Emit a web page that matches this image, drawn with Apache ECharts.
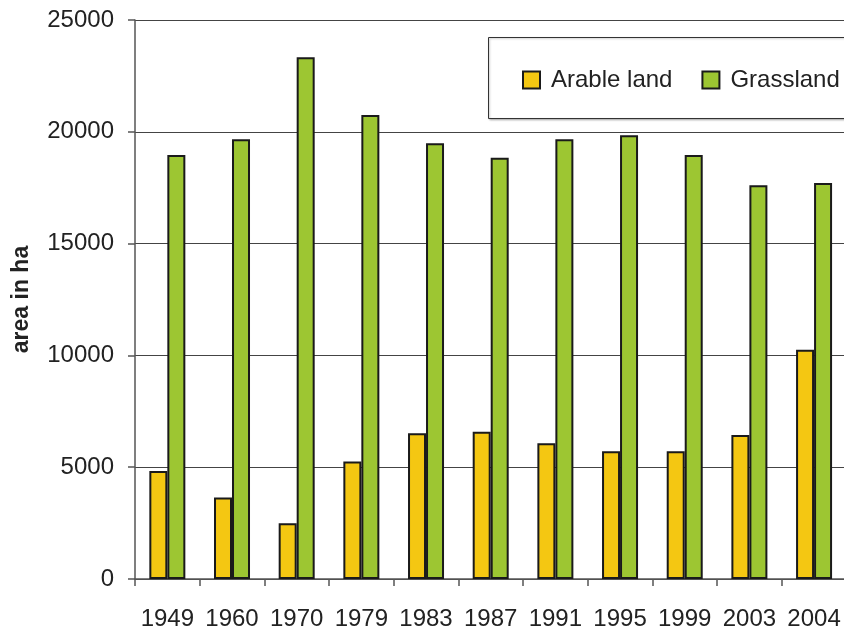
<!DOCTYPE html>
<html>
<head>
<meta charset="utf-8">
<script src="https://cdn.jsdelivr.net/npm/echarts@6/dist/echarts.min.js"></script>
<style>html,body{margin:0;padding:0;background:#fff}#c{width:844px;height:629px}</style>
</head>
<body>
<div id="c"></div>
<script>
var years = ['1949','1960','1970','1979','1983','1987','1991','1995','1999','2003','2004'];
var arable = [4830, 3650, 2490, 5250, 6515, 6590, 6070, 5710, 5710, 6440, 10255];
var grassland = [18960, 19665, 23330, 20750, 19485, 18840, 19665, 19845, 18960, 17610, 17710];
var yTicks = [0, 5000, 10000, 15000, 20000, 25000];

var chart = echarts.init(document.getElementById('c'));
var font = 'Liberation Sans, Arial, sans-serif';
chart.setOption({
  animation: false,
  textStyle: {fontFamily: font},
  graphic: [{
    type: 'rect', shape: {x: 488.5, y: 37.5, width: 370, height: 81},
    style: {fill: '#fff', stroke: '#333', lineWidth: 1, shadowColor: 'rgba(0,0,0,0.25)', shadowBlur: 2, shadowOffsetX: 1, shadowOffsetY: 1},
    z: 0
  }],
  legend: {
    orient: 'horizontal', left: 517, top: 63, width: 600, itemWidth: 17, itemHeight: 17, itemGap: 29,
    icon: 'rect', z: 5,
    textStyle: {fontSize: 24, color: '#222', fontFamily: font, padding: [0, 0, 0, 6]},
    data: ['Arable land', 'Grassland']
  },
  grid: {left: 135, top: 20, bottom: 50, right: -2.4, containLabel: false, outerBoundsMode: 'none'},
  xAxis: {
    type: 'category', data: years, boundaryGap: true,
    axisLine: {lineStyle: {color: '#555', width: 1.5}},
    axisTick: {show: true, length: 7, lineStyle: {color: '#555', width: 1.5}},
    axisLabel: {fontSize: 24, color: '#222', margin: 28, interval: 0, fontFamily: font}
  },
  yAxis: {
    type: 'value', min: 0, max: 25000, interval: 5000,
    name: 'area in ha', nameLocation: 'middle', nameRotate: 90, nameGap: 102,
    nameTextStyle: {fontSize: 23, fontWeight: 'bold', color: '#222', fontFamily: font},
    axisLine: {show: true, lineStyle: {color: '#555', width: 1.5}},
    axisTick: {show: true, length: 7, lineStyle: {color: '#555', width: 1.5}},
    axisLabel: {fontSize: 24, color: '#222', margin: 21, fontFamily: font,
      formatter: function (v) { return yTicks.indexOf(v) >= 0 ? String(v) : ''; }},
    splitLine: {show: true, lineStyle: {color: '#444', width: 1}}
  },
  series: [
    {name: 'Arable land', type: 'bar', data: arable, barWidth: 18, barGap: '0%',
     itemStyle: {color: '#F4C712', borderColor: '#1a1a1a', borderWidth: 2}},
    {name: 'Grassland', type: 'bar', data: grassland, barWidth: 18, barGap: '0%',
     itemStyle: {color: '#9DC632', borderColor: '#1a1a1a', borderWidth: 2}}
  ]
});
</script>
</body>
</html>
